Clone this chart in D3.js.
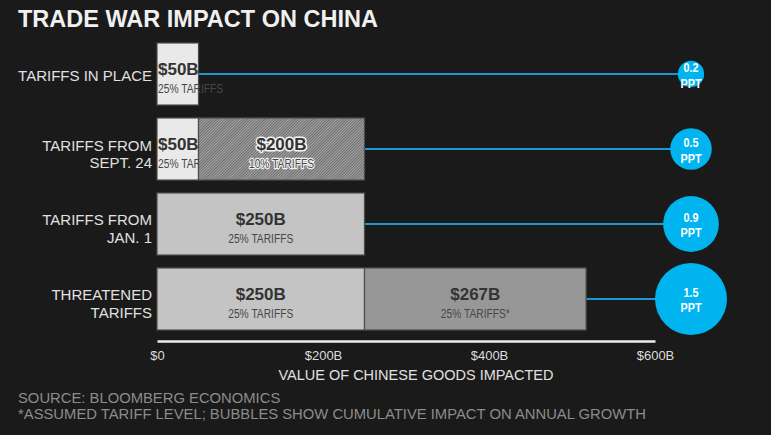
<!DOCTYPE html>
<html>
<head>
<meta charset="utf-8">
<script src="https://cdn.jsdelivr.net/npm/d3@7/dist/d3.min.js"></script>
<style>
  html, body { margin: 0; padding: 0; background: #1a1a1a; }
  svg { display: block; }
</style>
</head>
<body>
<svg id="chart" width="771" height="435"></svg>
<script>
// ---- data ----
const categories = [
  ["TARIFFS IN PLACE"],
  ["TARIFFS FROM", "SEPT. 24"],
  ["TARIFFS FROM", "JAN. 1"],
  ["THREATENED", "TARIFFS"]
];
const segValues  = [[50], [50, 200], [250], [250, 267]];
const segTariffs = [["25% TARIFFS"], ["25% TARIFFS", "10% TARIFFS"], ["25% TARIFFS"], ["25% TARIFFS", "25% TARIFFS*"]];
const segKinds   = [["inplace"], ["inplace", "hatch"], ["light"], ["light", "dark"]];
const impact     = [0.2, 0.5, 0.9, 1.5];
const tickValues = [0, 200, 400, 600];
const tickLabels = ["$0", "$200B", "$400B", "$600B"];

const title = "TRADE WAR IMPACT ON CHINA";
const axisTitle = "VALUE OF CHINESE GOODS IMPACTED";
const notes = ["SOURCE: BLOOMBERG ECONOMICS",
  "*ASSUMED TARIFF LEVEL; BUBBLES SHOW CUMULATIVE IMPACT ON ANNUAL GROWTH"];

// ---- setup ----
const svg = d3.select("#chart");
const W = 771, H = 435;
const sans = "'Liberation Sans', Arial, sans-serif";

svg.append("rect").attr("width", W).attr("height", H).attr("fill", "#1a1a1a");

const defs = svg.append("defs");
const pat = defs.append("pattern")
  .attr("id", "hatch").attr("patternUnits", "userSpaceOnUse")
  .attr("width", 2).attr("height", 2)
  .attr("patternTransform", "rotate(45)");
pat.append("rect").attr("width", 2).attr("height", 2).attr("fill", "#6c6c6c");
pat.append("rect").attr("width", 1).attr("height", 2).attr("fill", "#a6a6a6");

const fills = { inplace: "#e9e9e9", hatch: "url(#hatch)", light: "#c4c4c4", dark: "#979797" };

const x = d3.scaleLinear().domain([0, 600]).range([157, 655]);
const y = d3.scaleBand().domain(d3.range(categories.length)).range([43, 330]).paddingInner(0.173);
const r = d3.scaleSqrt().domain([0, 1.5]).range([0, 36]);
const bubbleX = 691;

// title
svg.append("text").attr("x", 18).attr("y", 27)
  .attr("font-family", sans).attr("font-weight", "bold").attr("font-size", 23.5)
  .attr("fill", "#f0f0f0").text(title);

// condensed-looking text (horizontal squeeze)
function squeezedText(g, tx, ty, txt, opts) {
  return g.append("text")
    .attr("transform", `translate(${tx},${ty}) scale(${opts.squeeze || 0.82},1)`)
    .attr("text-anchor", opts.anchor || "middle")
    .attr("font-family", sans).attr("font-size", opts.size)
    .attr("font-weight", opts.weight || "normal")
    .text(txt);
}

// rows
categories.forEach((cat, i) => {
  const y0 = y(i), bh = y.bandwidth(), cy = y0 + bh / 2;
  const total = d3.sum(segValues[i]);

  // connector line
  svg.append("line")
    .attr("x1", x(total)).attr("x2", bubbleX)
    .attr("y1", cy).attr("y2", cy)
    .attr("stroke", "#1a98cf").attr("stroke-width", 2);

  // category label
  const lab = svg.append("text")
    .attr("font-family", sans).attr("font-size", 15).attr("fill", "#e0e0e0")
    .attr("text-anchor", "end");
  if (cat.length === 1) {
    lab.append("tspan").attr("x", 152).attr("y", cy + 7).text(cat[0]);
  } else {
    lab.append("tspan").attr("x", 152).attr("y", cy + 1.5).text(cat[0]);
    lab.append("tspan").attr("x", 152).attr("y", cy + 19).text(cat[1]);
  }

  // segments
  let acc = 0;
  segValues[i].forEach((v, j) => {
    const x0 = x(acc), x1 = x(acc + v);
    acc += v;
    const kind = segKinds[i][j];
    svg.append("rect")
      .attr("x", x0).attr("y", y0).attr("width", x1 - x0).attr("height", bh)
      .attr("fill", fills[kind]).attr("stroke", "#4d4d4d").attr("stroke-width", 1.2);

    const narrowSeg = (x1 - x0) < 60;
    const tx = narrowSeg ? x0 + 1 : (x0 + x1) / 2;
    const anchor = narrowSeg ? "start" : "middle";
    const halo = kind === "hatch";

    // value label
    if (halo) {
      svg.append("text").attr("x", tx).attr("y", y0 + 32).attr("text-anchor", anchor)
        .attr("font-family", sans).attr("font-size", 17).attr("font-weight", "bold")
        .attr("fill", "none").attr("stroke", "#f2f2f2").attr("stroke-width", 3)
        .attr("stroke-linejoin", "round").text("$" + v + "B");
    }
    svg.append("text").attr("x", tx).attr("y", y0 + 32).attr("text-anchor", anchor)
      .attr("font-family", sans).attr("font-size", 17).attr("font-weight", "bold")
      .attr("fill", "#333333").text("$" + v + "B");

    // tariff label
    if (halo) {
      squeezedText(svg, tx, y0 + 50, segTariffs[i][j], { anchor, size: 12.5 })
        .attr("fill", "none").attr("stroke", "#f2f2f2").attr("stroke-width", 2.5)
        .attr("stroke-linejoin", "round");
    }
    squeezedText(svg, tx, y0 + 50, segTariffs[i][j], { anchor, size: 12.5 })
      .attr("fill", "#474747");
  });

  // bubble
  svg.append("circle").attr("cx", bubbleX).attr("cy", cy).attr("r", r(impact[i]))
    .attr("fill", "#00b4f0");
  squeezedText(svg, bubbleX, cy - 2, impact[i].toFixed(1), { size: 13.5, weight: "bold", squeeze: 0.8 })
    .attr("fill", "#ffffff");
  squeezedText(svg, bubbleX, cy + 13.5, "PPT", { size: 13.5, weight: "bold", squeeze: 0.8 })
    .attr("fill", "#ffffff");
});

// axis
const axisG = svg.append("g").attr("transform", "translate(0,341)");
axisG.call(d3.axisBottom(x).tickValues(tickValues)
  .tickFormat((d, i) => tickLabels[i]).tickSize(0).tickPadding(10));
axisG.select(".domain").attr("stroke", "#ececec").attr("stroke-width", 2.5);
axisG.selectAll("text").attr("font-family", sans).attr("font-size", 13)
  .attr("fill", "#dcdcdc");

svg.append("text").attr("x", (x(0) + x(600)) / 2 + 10).attr("y", 380)
  .attr("text-anchor", "middle").attr("font-family", sans).attr("font-size", 14.5)
  .attr("fill", "#e0e0e0").text(axisTitle);

notes.forEach((n, i) => {
  svg.append("text").attr("x", 18).attr("y", 402.5 + i * 16)
    .attr("font-family", sans).attr("font-size", 14.8).attr("fill", "#8c8c8c").text(n);
});
</script>
</body>
</html>
